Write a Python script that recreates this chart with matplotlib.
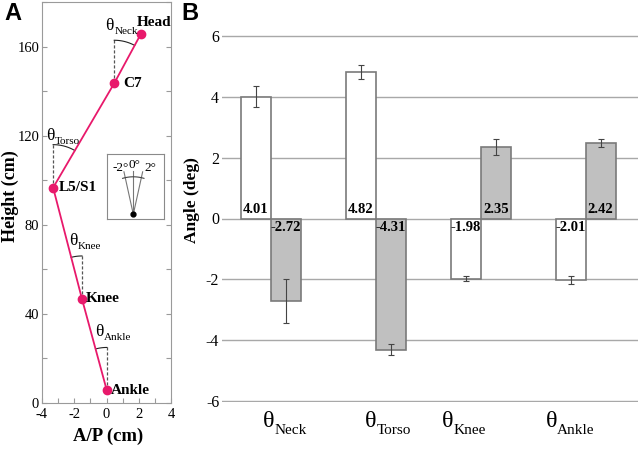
import numpy as np
import matplotlib
matplotlib.use('Agg')
import matplotlib.pyplot as plt

plt.rcParams['font.family'] = ['Liberation Serif', 'DejaVu Serif']
plt.rcParams['axes.unicode_minus'] = False

# ---------------- data: panel A (body posture) ----------------
joint_names = ['Ankle', 'Knee', 'L5/S1', 'C7', 'Head']
joint_ap = [0.02, -1.52, -3.31, 0.48, 2.12]
joint_height = [5.5, 46.6, 96.6, 143.5, 165.5]
angle_names = ['Ankle', 'Knee', 'Torso', 'Neck']   # angle at joint i toward joint i+1
ap_ticks = [-4, -2, 0, 2, 4]
height_ticks = [0, 40, 80, 120, 160]

# ---------------- data: panel B (angles) ----------------
categories = ['Neck', 'Torso', 'Knee', 'Ankle']
white_vals = [4.01, 4.82, -1.98, -2.02]
white_err = [0.35, 0.22, 0.08, 0.13]
gray_vals = [-2.72, -4.31, 2.35, 2.48]
gray_err = [0.72, 0.18, 0.25, 0.12]
white_labels = ['4.01', '4.82', '-1.98', '-2.01']
gray_labels = ['-2.72', '-4.31', '2.35', '2.42']
angle_ticks = [-6, -4, -2, 0, 2, 4, 6]

PINK = '#e8196b'
W, H = 640, 449
fig = plt.figure(figsize=(6.4, 4.49), dpi=100)


def theta_label(ax, x, y, name, size, subsize, extra_drop, **kw):
    t = ax.text(x, y, '\u03b8', fontsize=size, ha='left', va='baseline', **kw)
    ax.annotate(name, xy=(1, 0), xycoords=t, xytext=(0.3, -extra_drop),
                textcoords='offset points', fontsize=subsize,
                ha='left', va='baseline', annotation_clip=False)
    return t


# ================= Panel A =================
axA_px = (42, 2, 171, 402.7)  # left, top, right, bottom in pixels
axA = fig.add_axes([axA_px[0] / W, 1 - axA_px[3] / H,
                    (axA_px[2] - axA_px[0]) / W, (axA_px[3] - axA_px[1]) / H])
xlimA = (-4, 4)
ylimA = (0, 180)
axA.set_xlim(*xlimA)
axA.set_ylim(*ylimA)
sx = (axA_px[2] - axA_px[0]) / (xlimA[1] - xlimA[0])   # px per unit
sy = (axA_px[3] - axA_px[1]) / (ylimA[1] - ylimA[0])

axA.plot(joint_ap, joint_height, color=PINK, lw=1.3, marker='o', ms=6,
         mfc=PINK, mec=PINK, zorder=3)

axA.set_xticks(ap_ticks)
axA.set_xticks(np.arange(-4, 5, 1), minor=True)
axA.set_yticks(height_ticks)
axA.set_yticks(np.arange(0, 181, 20), minor=True)
axA.tick_params(which='both', direction='in', length=3.5, color='#9a9a9a',
                right=True, top=False, width=0.8)
axA.tick_params(axis='y', labelsize=10.5, pad=2)
axA.tick_params(axis='x', labelsize=10.5, pad=4)
for s in axA.spines.values():
    s.set_color('#9a9a9a')
    s.set_linewidth(0.8)

# joint labels
label_off = {'Ankle': (0.27, 0.2), 'Knee': (0.25, 0), 'L5/S1': (0.37, 0),
             'C7': (0.54, 0), 'Head': (-0.24, 5.5)}
for name, x, y in zip(joint_names, joint_ap, joint_height):
    dx, dy = label_off[name]
    axA.text(x + dx, y + dy, name, fontsize=11, fontweight='bold',
             ha='left', va='center')

# dashed verticals and arcs
R_dash = 45.0
R_arc = 43.0
for i in range(4):
    x0, y0 = joint_ap[i], joint_height[i]
    x1, y1 = joint_ap[i + 1], joint_height[i + 1]
    axA.plot([x0, x0], [y0, y0 + R_dash / sy], ls=(0, (2.5, 1.5)),
             color='#555555', lw=0.9, zorder=2)
    ang = np.arctan2((x1 - x0) * sx, (y1 - y0) * sy)
    t = np.linspace(0, ang, 40)
    axA.plot(x0 + R_arc * np.sin(t) / sx, y0 + R_arc * np.cos(t) / sy,
             color='#222222', lw=0.8, zorder=2)

# theta labels (x, y baseline of theta)
theta_pos = {'Neck': (-0.06, 167.2), 'Torso': (-3.77, 118.0),
             'Knee': (-2.31, 70.9), 'Ankle': (-0.69, 30.0)}
for nm in angle_names:
    x, y = theta_pos[nm]
    theta_label(axA, x, y, nm, 12.5, 8, 0.0)

fig.text(10 / W, 1 - 196 / H, 'Height (cm)', rotation=90, fontsize=13,
         fontweight='bold', ha='center', va='center')
fig.text(108 / W, 1 - 436 / H, 'A/P (cm)', fontsize=13.5, fontweight='bold',
         ha='center', va='center')

# inset fan
ins_px = (107.3, 154.3, 164, 219)
iw = ins_px[2] - ins_px[0]
ih = ins_px[3] - ins_px[1]
axI = fig.add_axes([ins_px[0] / W, 1 - ins_px[3] / H, iw / W, ih / H])
axI.set_xlim(0, iw)
axI.set_ylim(0, ih)
axI.set_xticks([])
axI.set_yticks([])
for s in axI.spines.values():
    s.set_color('#8a8a8a')
    s.set_linewidth(0.8)
cx, cy = 133.3 - ins_px[0], ins_px[3] - 214.3
fan_deg = [-2, 0, 2]
for d in fan_deg:
    a = np.deg2rad(d * 6.2)
    L = 43.5
    axI.plot([cx, cx + L * np.sin(a)], [cy, cy + L * np.cos(a)],
             color='#777777', lw=0.8)
ta = np.deg2rad(np.linspace(-16.5, 16.5, 40))
axI.plot(cx + 37.5 * np.sin(ta), cy + 37.5 * np.cos(ta), color='#444444', lw=0.8)
axI.plot([cx], [cy], 'o', color='black', ms=3.5)
lab_pos = {-2: (121 - ins_px[0], 168.3), 0: (134.5 - ins_px[0], 165),
           2: (150 - ins_px[0], 168)}
for d in fan_deg:
    x, y = lab_pos[d]
    axI.text(x, ins_px[3] - y, '%d°' % d, fontsize=9.5, ha='center', va='center')

# ================= Panel B =================
axB_px = (222, 35.1, 638, 401.9)
axB = fig.add_axes([axB_px[0] / W, 1 - axB_px[3] / H,
                    (axB_px[2] - axB_px[0]) / W, (axB_px[3] - axB_px[1]) / H])
axB.set_ylim(-6.03, 6.03)
axB.set_xlim(-0.464, 3.498)
xpos = np.arange(len(categories))
bw = 0.286
axB.set_axisbelow(True)
axB.yaxis.grid(True, color='#a8a8a8', lw=1.0)
axB.set_yticks(angle_ticks)
axB.set_xticks([])
axB.tick_params(axis='y', length=0, labelsize=11.5, pad=2)
for s in axB.spines.values():
    s.set_visible(False)

ekw = dict(ecolor='#444444', elinewidth=0.8, capsize=2, capthick=0.8)
axB.bar(xpos - bw / 2, white_vals, bw, color='white', edgecolor='#7a7a7a',
        lw=1.2, yerr=white_err, error_kw=ekw, zorder=2)
axB.bar(xpos + bw / 2, gray_vals, bw, color='#c0c0c0', edgecolor='#7a7a7a',
        lw=1.2, yerr=gray_err, error_kw=ekw, zorder=2)

for i in range(len(categories)):
    for xx, v, lab in ((xpos[i] - bw / 2, white_vals[i], white_labels[i]),
                       (xpos[i] + bw / 2, gray_vals[i], gray_labels[i])):
        yy = 0.3 if v > 0 else -0.3
        axB.text(xx, yy, lab, fontsize=10.5, fontweight='bold',
                 ha='center', va='center', zorder=4)

cat_offset = [-0.076, -0.102, -0.371, -0.384]
for i, nm in enumerate(categories):
    theta_label(axB, xpos[i] + cat_offset[i], -6.84, nm, 17.5, 11, 1.8,
                clip_on=False)

fig.text(192 / W, 1 - 200 / H, 'Angle (deg)', rotation=90, fontsize=12.5,
         fontweight='bold', ha='center', va='center')

# panel letters
fig.text(13 / W, 1 - 14 / H, 'A', fontsize=17, fontweight='bold',
         family=['Liberation Sans', 'DejaVu Sans'], ha='center', va='center')
fig.text(190 / W, 1 - 13 / H, 'B', fontsize=17, fontweight='bold',
         family=['Liberation Sans', 'DejaVu Sans'], ha='center', va='center')

fig.savefig('out.png', dpi=100)
